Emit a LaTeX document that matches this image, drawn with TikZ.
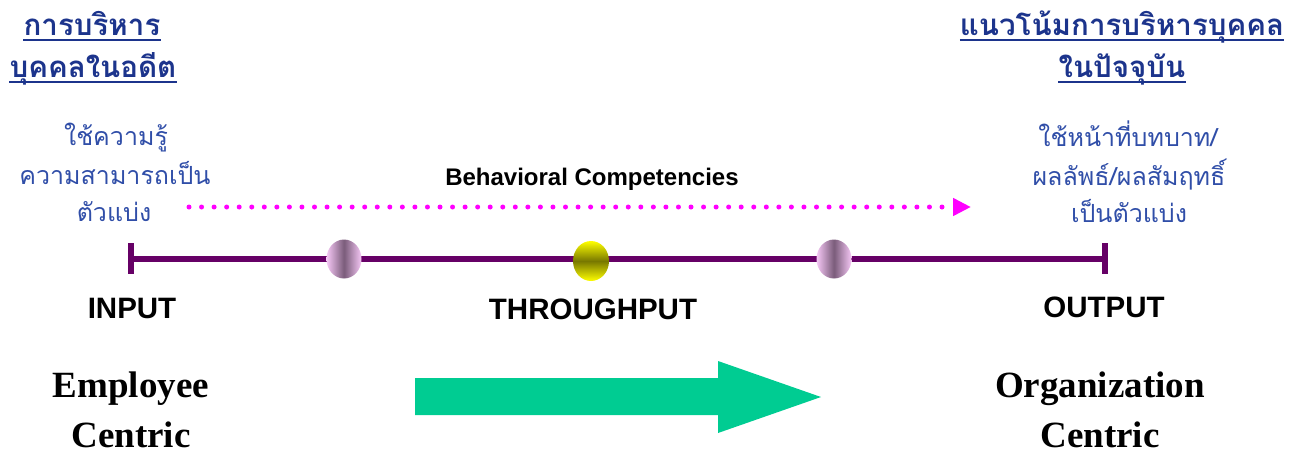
\documentclass[tikz,border=0pt]{standalone}
\usepackage{fontspec}
\setmainfont{Liberation Serif}
\setsansfont{Liberation Sans}
\newfontfamily\thai[Script=Thai]{Loma}
\usetikzlibrary{arrows.meta,shapes.geometric}
\definecolor{navy}{RGB}{28,52,140}
\definecolor{descblue}{RGB}{48,78,168}
\definecolor{purp}{RGB}{102,0,102}
\definecolor{magentadot}{RGB}{255,0,255}
\definecolor{arrowgreen}{RGB}{0,204,146}
\definecolor{beadpink}{RGB}{246,200,246}
\definecolor{beaddark}{RGB}{122,92,122}
\definecolor{beadolive}{RGB}{120,120,0}
\tikzset{
  titletxt/.style={font=\thai\bfseries\fontsize{29.5}{30}\selectfont, text=navy, inner sep=0pt, anchor=base},
  desctxt/.style={font=\thai\fontsize{25}{25}\selectfont, text=descblue, inner sep=0pt, anchor=base},
  labeltxt/.style={font=\sffamily\bfseries\fontsize{29.5}{30}\selectfont, inner sep=0pt, anchor=base},
  bigtxt/.style={font=\bfseries\fontsize{37}{37}\selectfont, inner sep=0pt, anchor=base},
  ul/.style={draw=navy, line width=1.8pt},
  beadpinkstyle/.style={ellipse, inner sep=0pt, minimum width=35pt, minimum height=39pt, left color=beadpink, right color=beadpink, middle color=beaddark},
  beadyellowstyle/.style={ellipse, inner sep=0pt, minimum width=36pt, minimum height=40pt, top color=yellow, bottom color=yellow, middle color=beadolive},
}
\begin{document}
\begin{tikzpicture}[x=1pt,y=-1pt]
\useasboundingbox (0,0) rectangle (1301,448);
% titles
\node[titletxt] (tl1) at (92,35) {การบริหาร};
\node[titletxt] (tl2) at (93,77) {บุคคลในอดีต};
\node[titletxt] (tr1) at (1122,35) {แนวโน้มการบริหารบุคคล};
\node[titletxt] (tr2) at (1122,77) {ในปัจจุบัน};
\foreach \n in {tl1,tl2,tr1,tr2}{
  \draw[ul] ([yshift=-5pt]\n.base west) -- ([yshift=-5pt]\n.base east);
}
% descriptions
\node[desctxt] (dl1) at (116,145) {ใช้ความรู้};
\node[desctxt] (dl2) at (115,184) {ความสามารถเป็น};
\node[desctxt] (dl3) at (114,221) {ตัวแบ่ง};
\node[desctxt] (dr1) at (1128,146) {ใช้หน้าที่บทบาท/};
\node[desctxt] (dr2) at (1129,185) {ผลลัพธ์/ผลสัมฤทธิ์};
\node[desctxt] (dr3) at (1129,222) {เป็นตัวแบ่ง};
% behavioral
\node[font=\sffamily\bfseries\fontsize{24}{24}\selectfont, inner sep=0pt, anchor=base] (beh) at (592,185) {Behavioral Competencies};
\coordinate (ds) at (189,207);
\coordinate (de) at (971,207);
\draw[magentadot, line width=5pt, line cap=round, dash pattern=on 0pt off 12.55pt, -{Triangle[length=18pt,width=17pt,line cap=butt]}] (ds) -- (de);
% main line
\coordinate (lin) at (131,259);
\coordinate (lout) at (1105,259);
\draw[purp, line width=6pt] (lin) -- (lout);
\draw[purp, line width=6pt] ([yshift=16pt]lin) -- ([yshift=-15pt]lin);
\draw[purp, line width=6pt] ([yshift=16pt]lout) -- ([yshift=-15pt]lout);
\node[beadpinkstyle] (b1) at (344,259) {};
\node[beadyellowstyle] (b2) at (591,261) {};
\node[beadpinkstyle] (b3) at (834,259) {};
% labels
\node[labeltxt] (inp) at (132,318) {INPUT};
\node[labeltxt] (thr) at (593,319) {THROUGHPUT};
\node[labeltxt] (outp) at (1104,317) {OUTPUT};
% bottom
\node[bigtxt] (emp) at (131,397) {Employee};
\node[bigtxt] (ec) at (131,447) {Centric};
\node[bigtxt] (org) at (1100,397) {Organization};
\node[bigtxt] (oc) at (1100,447) {Centric};
\fill[arrowgreen] (415,378) -- (718,378) -- (718,361) -- (821,397) -- (718,433) -- (718,415) -- (415,415) -- cycle;
\end{tikzpicture}
\end{document}
